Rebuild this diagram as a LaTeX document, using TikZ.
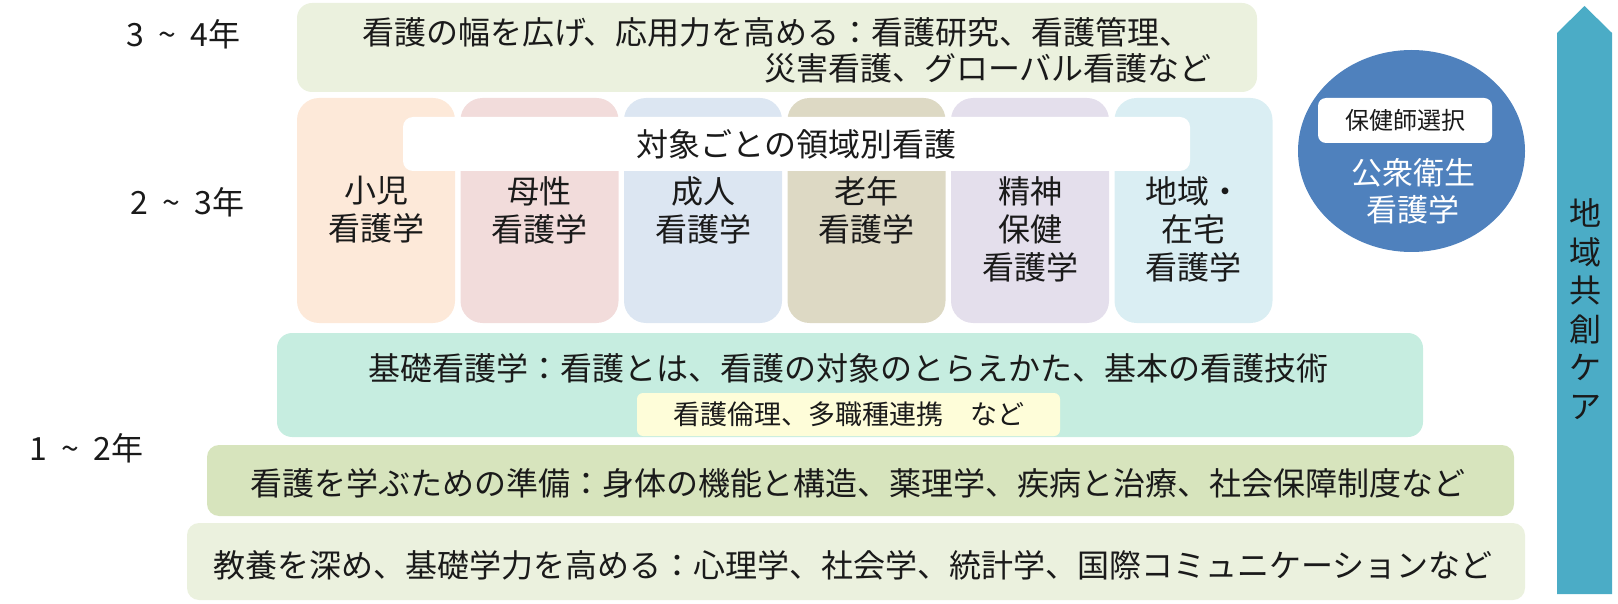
\documentclass[tikz,border=0pt]{standalone}
\usepackage{fontspec}
\setmainfont{Noto Sans CJK JP}
\usetikzlibrary{shapes.geometric}
\definecolor{cTop}{HTML}{EBF1DE}
\definecolor{cShoni}{HTML}{FDE9D9}
\definecolor{cBosei}{HTML}{F2DCDB}
\definecolor{cSeijin}{HTML}{DCE6F2}
\definecolor{cRonen}{HTML}{DDD9C4}
\definecolor{cSeishin}{HTML}{E4DFEC}
\definecolor{cChiiki}{HTML}{DAEEF3}
\definecolor{cKiso}{HTML}{C6EDE0}
\definecolor{cYellow}{HTML}{FEFDD9}
\definecolor{cJunbi}{HTML}{D7E4BD}
\definecolor{cKyoyo}{HTML}{EBF1DE}
\definecolor{cEllipse}{HTML}{4F81BD}
\definecolor{cArrow}{HTML}{4BACC6}
\definecolor{cText}{HTML}{1A1A1A}
\newcommand{\yrsep}{\hspace{14pt}}
\begin{document}
\begin{tikzpicture}[x=1pt,y=-1pt,
  rbox/.style={rounded corners=#1, inner sep=0pt, draw=none, text=cText},
  big/.style={font=\fontsize{32}{38}\selectfont},
  col/.style={rbox=22pt, minimum width=158pt, minimum height=225pt},
  coltext/.style={big, anchor=north, align=center, inner sep=0pt, text=cText},
  yeartext/.style={font=\fontsize{32}{36}\selectfont, inner sep=0pt, text=cText}]
\useasboundingbox (0,0) rectangle (1618,604);
% year labels
\node[yeartext] (y34) at (183.5,34) {3\yrsep\textasciitilde\yrsep 4年};
\node[yeartext] (y23) at (187.5,202) {2\yrsep\textasciitilde\yrsep 3年};
\node[yeartext] (y12) at (86.5,448) {1\yrsep\textasciitilde\yrsep 2年};
% top box
\node[rbox=15pt, fill=cTop, minimum width=960pt, minimum height=89pt] (top) at (777,47.5) {};
\node[big, anchor=west, inner sep=0pt, text=cText] (topA) at (362,32) {看護の幅を広げ、応用力を高める：看護研究、看護管理、};
\node[big, anchor=east, inner sep=0pt, text=cText] (topB) at (1212,68) {災害看護、グローバル看護など};
% columns
\node[col, fill=cShoni] (c1) at (376,210.5) {};
\node[col, fill=cBosei] (c2) at (539.5,210.5) {};
\node[col, fill=cSeijin] (c3) at (703,210.5) {};
\node[col, fill=cRonen] (c4) at (866.5,210.5) {};
\node[col, fill=cSeishin] (c5) at (1030,210.5) {};
\node[col, fill=cChiiki] (c6) at (1193.5,210.5) {};
\node[coltext] (t1) at (376,176) {小児\\看護学};
\node[coltext] (t2) at (539.5,176) {母性\\看護学};
\node[coltext] (t3) at (703,176) {成人\\看護学};
\node[coltext] (t4) at (866.5,176) {老年\\看護学};
\node[coltext] (t5) at (1030,176) {精神\\保健\\看護学};
\node[coltext] (t6) at (1193.5,176) {地域・\\在宅\\看護学};
% banner
\node[rbox=10pt, fill=white, minimum width=787pt, minimum height=54pt, big] (banner) at (796.5,144) {対象ごとの領域別看護};
% kiso
\node[rbox=15pt, fill=cKiso, minimum width=1146pt, minimum height=104pt] (kiso) at (850,385) {};
\node[big, inner sep=0pt, text=cText] (kisoT) at (848.5,368) {基礎看護学：看護とは、看護の対象のとらえかた、基本の看護技術};
\node[rbox=6pt, fill=cYellow, minimum width=423pt, minimum height=43pt, font=\fontsize{27}{32}\selectfont] (ethic) at (848.5,414.5) {看護倫理、多職種連携　など};
% junbi
\node[rbox=12pt, fill=cJunbi, minimum width=1307pt, minimum height=71pt] (junbi) at (860.5,480.5) {};
\node[big, inner sep=0pt, text=cText] (junbiT) at (858,483) {看護を学ぶための準備：身体の機能と構造、薬理学、疾病と治療、社会保障制度など};
% kyoyo
\node[rbox=12pt, fill=cKyoyo, minimum width=1338pt, minimum height=77pt] (kyoyo) at (856,561.5) {};
\node[big, inner sep=0pt, text=cText] (kyoyoT) at (853,565) {教養を深め、基礎学力を高める：心理学、社会学、統計学、国際コミュニケーションなど};
% ellipse
\node[ellipse, fill=cEllipse, minimum width=227pt, minimum height=202pt, inner sep=0pt] (hoken) at (1411.5,151) {};
\node[rbox=8pt, fill=white, minimum width=174pt, minimum height=45pt, font=\fontsize{24}{28}\selectfont] (sentaku) at (1405,120.5) {保健師選択};
\node[text=white, align=center, inner sep=0pt, font=\fontsize{31}{37}\selectfont] (koshu) at (1413,191.5) {公衆衛生\\看護学};
% arrow
\fill[cArrow] (1557,594) -- (1557,33) -- (1584.5,6) -- (1612,33) -- (1612,594) -- cycle;
\node[align=center, inner sep=0pt, text=cText, font=\fontsize{32}{38.5}\selectfont] (care) at (1585,309) {地\\域\\共\\創\\ケ\\ア};
\end{tikzpicture}
\end{document}
